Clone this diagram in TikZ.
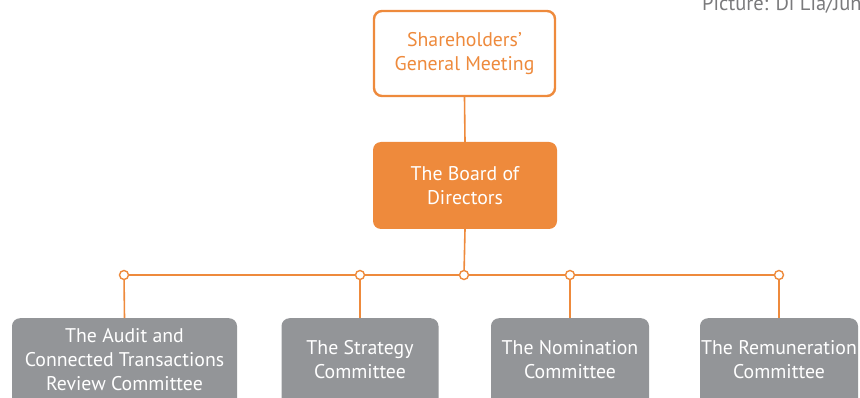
\documentclass[tikz,border=0pt]{standalone}
\usepackage{fontspec}
\setmainfont{PT Sans}
\definecolor{orng}{HTML}{EE8A3C}
\definecolor{grayb}{HTML}{939598}
\definecolor{captxt}{HTML}{7A7A7C}
\begin{document}
\begin{tikzpicture}[x=1pt,y=-1pt,
  boxfont/.style={font=\fontsize{19.8}{24}\selectfont},
  topbox/.style={boxfont,draw=orng,line width=2.4pt,fill=white,rounded corners=8pt,minimum width=181pt,minimum height=85pt,align=center,text=orng,inner sep=0pt},
  boardbox/.style={boxfont,fill=orng,rounded corners=8pt,minimum width=184pt,minimum height=87pt,align=center,text=white,inner sep=0pt},
  combox/.style={fill=grayb,rounded corners=8pt,minimum height=90pt,inner sep=0pt},
  comtext/.style={boxfont,align=center,text=white,anchor=north,inner sep=0pt},
  conn/.style={draw=orng,line width=1.6pt},
  dot/.style={circle,draw=orng,line width=1.4pt,fill=white,minimum size=9pt,inner sep=0pt}]
\useasboundingbox (0,0) rectangle (860,398);
\clip (0,0) rectangle (860,398);
\node[anchor=base west,text=captxt,font=\fontsize{20.5}{24}\selectfont,inner sep=0pt] (cap) at (702,11) {Picture: Di Lia/Jun};
\node[topbox] (sgm) at (464.5,53.5) {Shareholders’\\General Meeting};
\node[boardbox] (bod) at (465,185.5) {The Board of\\Directors};
\coordinate (hub) at (464,275);
\node[combox,minimum width=225pt,anchor=north] (audit) at (124.5,318) {};
\node[combox,minimum width=157pt,anchor=north] (strat) at (360,318) {};
\node[combox,minimum width=158pt,anchor=north] (nom) at (570,318) {};
\node[combox,minimum width=158pt,anchor=north] (rem) at (779,318) {};
\node[comtext] (auditt) at (124.5,328) {The Audit and\\Connected Transactions\\Review Committee};
\node[comtext] (stratt) at (360,340) {The Strategy\\Committee};
\node[comtext] (nomt) at (570,340) {The Nomination\\Committee};
\node[comtext] (remt) at (779,340) {The Remuneration\\Committee};
\coordinate (d1) at (124,275);
\coordinate (d2) at (360,275);
\coordinate (d4) at (570,275);
\coordinate (d5) at (779,275);
\draw[conn] (sgm.south) -- (bod.north);
\draw[conn] (bod.south) -- (hub);
\draw[conn] (d1) -- (d5);
\draw[conn] (d1) -- (audit.north);
\draw[conn] (d2) -- (strat.north);
\draw[conn] (d4) -- (nom.north);
\draw[conn] (d5) -- (rem.north);
\foreach \p in {d1,d2,hub,d4,d5} \node[dot] at (\p) {};
\end{tikzpicture}
\end{document}
